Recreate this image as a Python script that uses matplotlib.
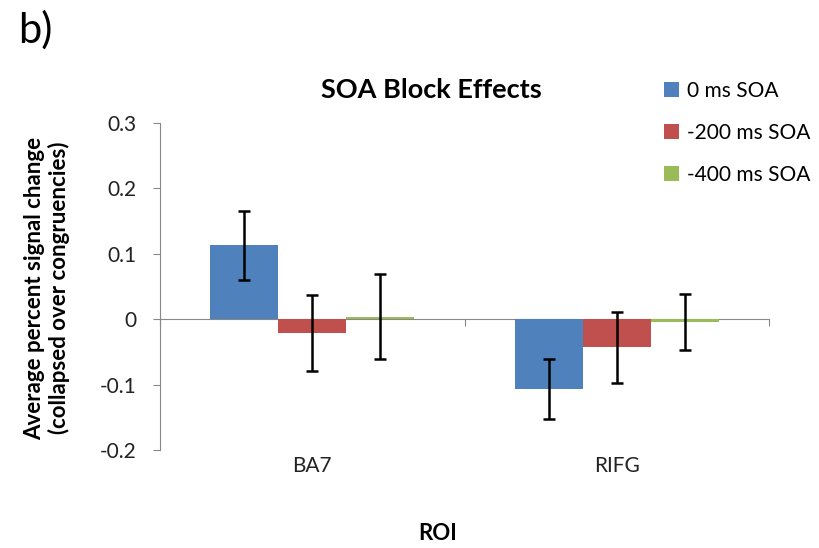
import matplotlib.pyplot as plt
import numpy as np

plt.rcParams["font.family"] = ["Lato", "DejaVu Sans"]

# data
rois = ["BA7", "RIFG"]
conditions = ["0 ms SOA", "-200 ms SOA", "-400 ms SOA"]
colors = ["#4F81BD", "#C0504D", "#9BBB59"]
means = {
    "0 ms SOA": [0.113, -0.107],
    "-200 ms SOA": [-0.021, -0.043],
    "-400 ms SOA": [0.004, -0.004],
}
errors = {
    "0 ms SOA": [0.053, 0.046],
    "-200 ms SOA": [0.058, 0.054],
    "-400 ms SOA": [0.065, 0.043],
}
yticks = [-0.2, -0.1, 0, 0.1, 0.2, 0.3]
ytick_labels = ["-0.2", "-0.1", "0", "0.1", "0.2", "0.3"]

fig = plt.figure(figsize=(8.19, 5.48), dpi=100)
ax = fig.add_axes([160 / 819, 1 - 450 / 548, (769 - 160) / 819, (450 - 123) / 548])

x = np.arange(len(rois)) + 0.5
width = 0.223
for i, cond in enumerate(conditions):
    pos = x + (i - 1) * width
    ax.bar(pos, means[cond], width, color=colors[i], label=cond, zorder=2)
    ax.errorbar(pos, means[cond], yerr=errors[cond], fmt="none", ecolor="black",
                elinewidth=1.8, capsize=4.5, capthick=1.8, zorder=3)

ax.set_xlim(0, len(rois))
ax.set_ylim(-0.2, 0.3)
ax.set_yticks(yticks)
ax.set_yticklabels(ytick_labels)
ax.set_xticks(np.arange(len(rois) + 1))
ax.set_xticklabels([])

for side in ["top", "right"]:
    ax.spines[side].set_visible(False)
ax.spines["left"].set_color("#888888")
ax.spines["bottom"].set_color("#888888")
ax.spines["bottom"].set_position(("data", 0))
ax.spines["bottom"].set_zorder(1)
ax.tick_params(axis="y", colors="#888888", length=5, labelsize=15, labelcolor="#222222", pad=12)
ax.tick_params(axis="x", colors="#888888", length=5)

# category names sit under the plot, not on the zero line
for xi, name in zip(x, rois):
    ax.text(xi, -0.209, name, ha="center", va="top", fontsize=15, color="#222222",
            clip_on=False)

fig.text(431 / 819, 1 - 90 / 548, "SOA Block Effects", ha="center", va="center",
         fontsize=19.5, fontweight="bold")
fig.text(438 / 819, 1 - 533 / 548, "ROI", ha="center", va="center",
         fontsize=16, fontweight="bold")
fig.text(47 / 819, 1 - 288 / 548, "Average percent signal change\n(collapsed over congruencies)",
         ha="center", va="center", rotation=90, fontsize=16, fontweight="bold",
         linespacing=1.15)
fig.text(18 / 819, 1 - 30 / 548, "b)", ha="left", va="center", fontsize=30)

handles, labels = ax.get_legend_handles_labels()
fig.legend(handles, labels, loc="upper left", bbox_to_anchor=(645 / 819, 1 - 62 / 548),
           frameon=False, fontsize=15, handlelength=0.75, handleheight=0.75,
           handletextpad=0.35, labelspacing=1.05)

fig.savefig("out.png", dpi=100)
